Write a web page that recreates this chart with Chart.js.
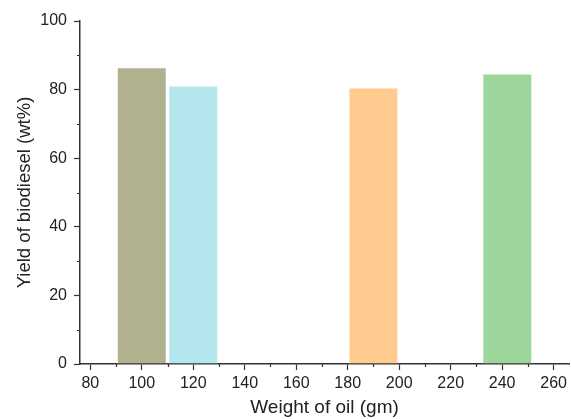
<!DOCTYPE html>
<html>
<head>
<meta charset="utf-8">
<script src="https://cdn.jsdelivr.net/npm/chart.js@4.4.1/dist/chart.umd.min.js"></script>
<style>
  html, body { margin: 0; padding: 0; background: #fff; }
  #wrap { width: 571px; height: 419px; }
</style>
</head>
<body>
<div id="wrap"><canvas id="chart" width="571" height="419"></canvas></div>
<script>
// data
const oilWeights = [100, 120, 190, 242];
const yields = [86.5, 81.2, 80.6, 84.7];
const barColors = ["#b1b18f", "#b4e6ee", "#ffcb8f", "#9dd69b"];
const xTicks = [80, 100, 120, 140, 160, 180, 200, 220, 240, 260];
const yTicks = [0, 20, 40, 60, 80, 100];

const axisColor = "#333";
const textColor = "#222";
const font = "'Liberation Sans', Arial, sans-serif";

// small in-between ticks (every 10 units), drawn with the scales
const minorTicks = {
  id: "minorTicks",
  afterDraw(chart) {
    const { ctx, scales } = chart;
    const x = scales.x, y = scales.y;
    ctx.save();
    ctx.strokeStyle = axisColor;
    ctx.lineWidth = 1.2;
    ctx.beginPath();
    for (let v = 90; v <= 250; v += 20) {
      const px = Math.round(x.getPixelForValue(v)) + 0.5;
      ctx.moveTo(px, x.top);
      ctx.lineTo(px, x.top + 3);
    }
    for (let v = 10; v <= 90; v += 20) {
      const py = Math.round(y.getPixelForValue(v)) + 0.5;
      ctx.moveTo(y.right, py);
      ctx.lineTo(y.right - 3, py);
    }
    ctx.stroke();
    ctx.restore();
  }
};

const ctx = document.getElementById("chart").getContext("2d");
new Chart(ctx, {
  type: "bar",
  data: {
    datasets: [{
      data: oilWeights.map((w, i) => ({ x: w, y: yields[i] })),
      backgroundColor: barColors,
      borderColor: "rgba(255,255,255,0.5)",
      borderWidth: 1,
      barPercentage: 0.97,
      categoryPercentage: 1
    }]
  },
  options: {
    responsive: false,
    animation: false,
    layout: { padding: { top: 21, right: 0, left: 0, bottom: 0 } },
    plugins: { legend: { display: false }, tooltip: { enabled: false } },
    scales: {
      x: {
        type: "linear",
        min: 76,
        max: 266,
        offset: false,
        afterBuildTicks: s => { s.ticks = xTicks.map(v => ({ value: v })); },
        afterFit: s => { s.height = 55; },
        border: { color: axisColor, width: 1.5 },
        grid: { drawOnChartArea: false, drawTicks: true, tickLength: 6, tickColor: axisColor, tickWidth: 1.2, offset: false },
        ticks: { color: textColor, font: { family: font, size: 16 }, padding: 4, maxRotation: 0 },
        title: { display: true, text: "Weight of oil (gm)", color: textColor, font: { family: font, size: 19 }, padding: { top: 4, bottom: 0 } }
      },
      y: {
        min: 0,
        max: 100,
        afterBuildTicks: s => { s.ticks = yTicks.map(v => ({ value: v })); },
        afterFit: s => { s.width = 80; },
        border: { color: axisColor, width: 1.5 },
        grid: { drawOnChartArea: false, drawTicks: true, tickLength: 6, tickColor: axisColor, tickWidth: 1.2 },
        ticks: { color: textColor, font: { family: font, size: 16 }, padding: 7 },
        title: { display: true, text: "Yield of biodiesel (wt%)", color: textColor, font: { family: font, size: 18.5 }, padding: { top: 14, bottom: 0 } }
      }
    }
  },
  plugins: [minorTicks]
});
</script>
</body>
</html>
